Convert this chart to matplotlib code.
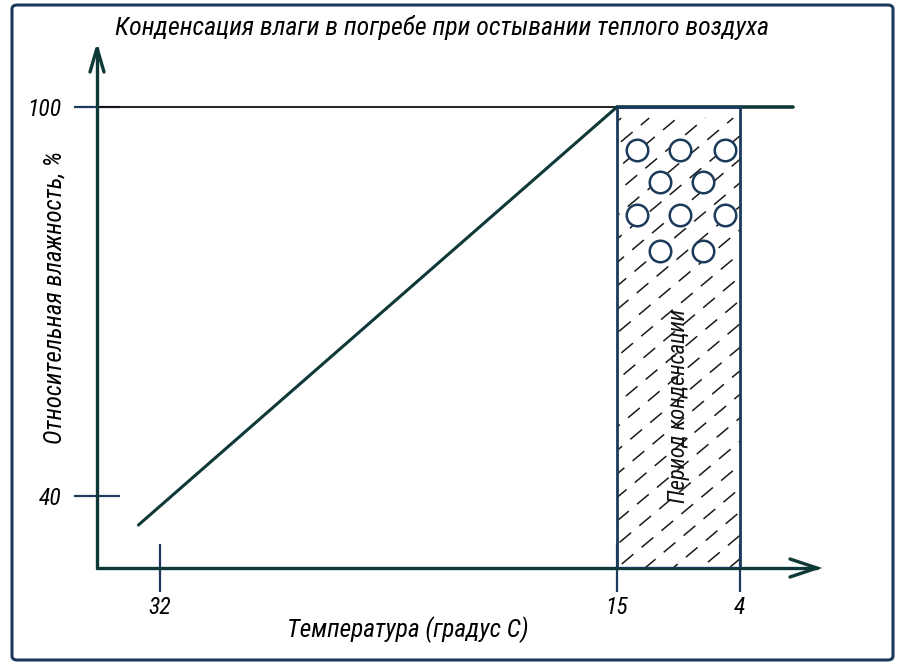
import matplotlib
matplotlib.use('Agg')
import matplotlib.pyplot as plt
from matplotlib import font_manager
from matplotlib.font_manager import FontProperties
from matplotlib.patches import Rectangle, FancyBboxPatch
from matplotlib.lines import Line2D
import numpy as np

# chart values
title = 'Конденсация влаги в погребе при остывании теплого воздуха'
xlabel = 'Температура (градус С)'
ylabel = 'Относительная влажность, %'
band_label = 'Период конденсации'

temp_ticks = [32, 15, 4]
temp_labels = ['32', '15', '4']
hum_ticks = [40, 100]
hum_labels = ['40', '100']

cool_temp = [32.8, 15.0]        # cooling line: temperature
cool_hum = [35.5, 100.0]        # cooling line: relative humidity
band_temp = [15.0, 4.0]         # condensation period
saturation = 100.0
sat_end = -0.75

drop_temp = [13.2, 9.4, 5.35, 11.15, 7.3, 13.2, 9.4, 5.35, 11.15, 7.3]
drop_hum = [93.4, 93.4, 93.4, 88.4, 88.4, 83.3, 83.3, 83.3, 77.8, 77.8]

navy = '#1c3a5c'
teal = '#0f3838'


# pick a narrow italic face if one is installed
def pick_font():
    narrow = ('condensed', 'semi-condensed', 'extra-condensed', 'ultra-condensed')
    found = []
    for f in font_manager.fontManager.ttflist:
        if f.style != 'italic' or f.weight not in (400, 'normal', 'regular', 'book'):
            continue
        st = f.stretch
        if ('Narrow' in f.name or 'Condensed' in f.name or str(st) in narrow
                or (isinstance(st, int) and st < 500)):
            found.append(f)
    order = ['Liberation Sans Narrow', 'Roboto', 'Open Sans', 'Noto Sans', 'Lato', 'Inter']
    found.sort(key=lambda f: min([i for i, o in enumerate(order) if f.name.startswith(o)] + [99]))
    if found:
        return FontProperties(fname=found[0].fname)
    return FontProperties(fname=font_manager.findfont(
        FontProperties(family='Liberation Sans', style='italic')))


fp = pick_font()


def fprop(size):
    p = fp.copy()
    p.set_size(size)
    return p


# schematic (non-linear) temperature axis
knot_t = np.array([-50.0, 4.0, 15.0, 32.0, 80.0])
knot_p = np.array([740 + 54 * 11.18, 740.0, 617.0, 160.0, 160 - 48 * 26.88])


def fwd(t):
    return -np.interp(t, knot_t, knot_p)


def inv(p):
    return np.interp(-p, knot_p[::-1], knot_t[::-1])


fig = plt.figure(figsize=(9, 6.65), dpi=100)
ax = fig.add_axes([97 / 900, 1 - 568 / 665, 720 / 900, 520 / 665])
ax.set_xscale('function', functions=(fwd, inv))
ax.set_xlim(34.34, -2.89)
ax.set_ylim(28.87, 109.1)

for s in ['top', 'right']:
    ax.spines[s].set_visible(False)
for s in ['left', 'bottom']:
    ax.spines[s].set_color(teal)
    ax.spines[s].set_linewidth(2.4)
    ax.spines[s].set_capstyle('round')

ax.set_xticks(temp_ticks)
ax.set_xticklabels(temp_labels)
ax.set_yticks(hum_ticks)
ax.set_yticklabels(hum_labels)
ax.tick_params(axis='x', direction='inout', length=34, width=1.6, color=navy, pad=3)
ax.tick_params(axis='y', direction='inout', length=33, width=1.6, color=navy, pad=9)
ax.minorticks_off()
for lbl in ax.get_xticklabels() + ax.get_yticklabels():
    lbl.set_fontproperties(fprop(17))

# arrow heads
w_px = ax.get_position().width * fig.get_figwidth() * fig.dpi
h_px = ax.get_position().height * fig.get_figheight() * fig.dpi
ax.add_line(Line2D([1 - 27 / w_px, 1, 1 - 27 / w_px], [9 / h_px, 0, -9 / h_px],
                   transform=ax.transAxes, color=teal, lw=2.4, clip_on=False,
                   solid_capstyle='round', solid_joinstyle='miter'))
ax.add_line(Line2D([-7 / w_px, 0, 7 / w_px], [1 - 24 / h_px, 1, 1 - 24 / h_px],
                   transform=ax.transAxes, color=teal, lw=2.4, clip_on=False,
                   solid_capstyle='round', solid_joinstyle='miter'))

# saturation line
ax.plot([34.34, band_temp[0]], [saturation, saturation], color='#111111', lw=1.3)
ax.plot([band_temp[0], sat_end], [saturation, saturation], color=teal, lw=2.6,
        solid_capstyle='round')

# cooling line
ax.plot(cool_temp, cool_hum, color=teal, lw=2.2, solid_capstyle='round')

# condensation band
y0 = ax.get_ylim()[0]
rect = Rectangle((band_temp[1], y0), band_temp[0] - band_temp[1], saturation - y0,
                 facecolor='none', edgecolor=navy, lw=2.0, zorder=3)
ax.add_patch(rect)
clip = Rectangle((band_temp[1], y0), band_temp[0] - band_temp[1], saturation - y0,
                 transform=ax.transData, facecolor='none', edgecolor='none')
ax.add_patch(clip)

# dashed hatch lines at ~40 degrees
ang = np.deg2rad(40)
for i, c in enumerate(np.arange(-600, 800, 28)):
    s = np.array([0, 700])
    xs = (c + s * np.cos(ang)) / w_px
    ys = (s * np.sin(ang)) / h_px
    ln = Line2D(xs, ys, transform=ax.transAxes, color='#1a1a1a', lw=1.1,
                linestyle=((i * 5) % 17, (10, 7)))
    ax.add_line(ln)
    ln.set_clip_path(clip)

ax.scatter(drop_temp, drop_hum, s=240, facecolor='white', edgecolor=navy,
           linewidths=1.8, zorder=4)

band_txt = ax.text(np.mean(band_temp), 53.8, band_label, rotation=90, ha='center',
                   va='center', fontproperties=fprop(15), color='#111111', zorder=5)

ax.set_xlabel(xlabel, fontproperties=fprop(15))
ax.xaxis.set_label_coords((408 - 97) / w_px, -(630 - 568) / h_px)
ax.xaxis.label.set_verticalalignment('center')
ax.set_ylabel(ylabel, fontproperties=fprop(15))
ax.yaxis.set_label_coords(-(97 - 55) / w_px, (568 - 297) / h_px)
ax.yaxis.label.set_verticalalignment('center')

title_txt = fig.text(442 / 900, 1 - 28 / 665, title, ha='center', va='center',
                     fontproperties=fprop(17))

# scale text to the widths in the reference
renderer = fig.canvas.get_renderer()
for art, target, along in [(title_txt, 655, 'w'), (ax.xaxis.label, 243, 'w'),
                           (ax.yaxis.label, 293, 'h'), (band_txt, 195, 'h')]:
    bb = art.get_window_extent(renderer)
    size = art.get_fontsize()
    cur = bb.width if along == 'w' else bb.height
    art.set_fontsize(size * target / cur)

border = FancyBboxPatch((12 / 900, 5 / 665), 881 / 900, 655 / 665,
                        boxstyle='round,pad=0,rounding_size=0.006',
                        transform=fig.transFigure, facecolor='none',
                        edgecolor=navy, lw=2.2)
fig.patches.append(border)

fig.savefig('out.png', dpi=100)
